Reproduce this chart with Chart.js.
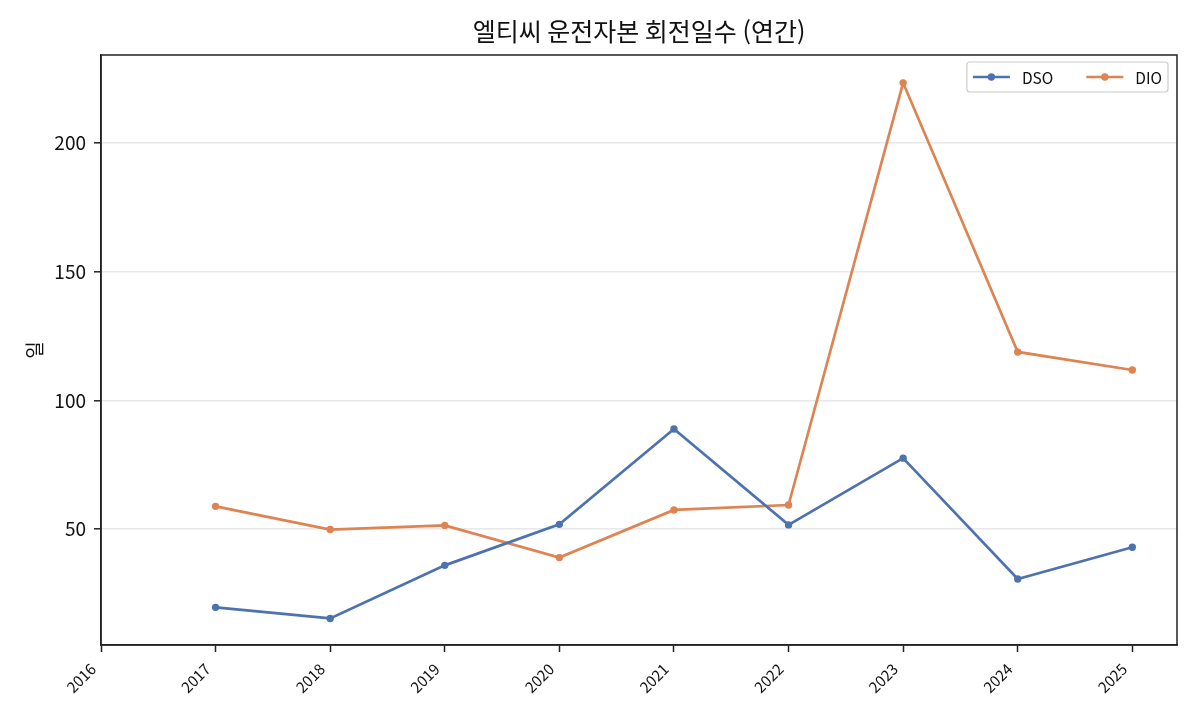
<!DOCTYPE html>
<html lang="ko">
<head>
<meta charset="utf-8">
<title>엘티씨 운전자본 회전일수 (연간)</title>
<script src="https://cdn.jsdelivr.net/npm/chart.js@4.4.1/dist/chart.umd.min.js"></script>
<style>
    html, body { margin: 0; padding: 0; background: #ffffff; }
    canvas { display: block; }
</style>
</head>
<body>
<canvas id="chart" width="1200" height="720"></canvas>
<script>
// --- Data ---
const years = [2017, 2018, 2019, 2020, 2021, 2022, 2023, 2024, 2025];
const dsoDays = [19.7, 15.4, 36.0, 51.9, 88.9, 51.7, 77.6, 30.7, 43.0];
const dioDays = [58.9, 49.9, 51.5, 39.0, 57.5, 59.4, 223.2, 118.8, 111.8];
const xTickYears = [2016, 2017, 2018, 2019, 2020, 2021, 2022, 2023, 2024, 2025];
const yTickValues = [50, 100, 150, 200];

const FONT = '"Noto Sans CJK KR", "Noto Sans", sans-serif';
const AXIS_COLOR = '#222222';
const LINE_W = 2.7;
const MARKER_R = 3.7;

// matplotlib-like frame around the plot area
const framePlugin = {
    id: 'frame',
    afterDraw(chart) {
        const { ctx, chartArea: a } = chart;
        ctx.save();
        ctx.strokeStyle = AXIS_COLOR;
        ctx.lineWidth = 1.5;
        ctx.strokeRect(a.left, a.top, a.right - a.left, a.bottom - a.top);
        ctx.restore();
    }
};

// Legend drawn inside the plot, top right, with a rounded box
const insideLegend = {
    id: 'insideLegend',
    afterDraw(chart) {
        const { ctx, chartArea: a } = chart;
        const sets = chart.data.datasets;
        ctx.save();
        ctx.font = '15.5px ' + FONT;
        const pad = 6, handle = 37, gap = 12, colGap = 33, boxH = 30;
        const widths = sets.map(ds => ctx.measureText(ds.label).width);
        let boxW = pad * 2 + (sets.length - 1) * colGap;
        widths.forEach(w => { boxW += handle + gap + w; });

        const right = a.right - 9;
        const left = right - boxW;
        const top = a.top + 7;

        ctx.beginPath();
        ctx.roundRect(left, top, boxW, boxH, 3);
        ctx.fillStyle = 'rgba(255,255,255,0.85)';
        ctx.fill();
        ctx.strokeStyle = '#cccccc';
        ctx.lineWidth = 1.2;
        ctx.stroke();

        const cy = top + boxH / 2;
        let x = left + pad;
        sets.forEach((ds, i) => {
            ctx.strokeStyle = ds.borderColor;
            ctx.lineWidth = LINE_W;
            ctx.beginPath();
            ctx.moveTo(x, cy);
            ctx.lineTo(x + handle, cy);
            ctx.stroke();
            ctx.fillStyle = ds.borderColor;
            ctx.beginPath();
            ctx.arc(x + handle / 2, cy, MARKER_R, 0, Math.PI * 2);
            ctx.fill();
            x += handle + gap;
            ctx.fillStyle = '#111111';
            ctx.textBaseline = 'middle';
            ctx.fillText(ds.label, x, cy + 1);
            x += widths[i] + colGap;
        });
        ctx.restore();
    }
};

function toPoints(values) {
    return years.map((yr, i) => ({ x: yr, y: values[i] }));
}

const lineStyle = (color) => ({
    borderColor: color,
    backgroundColor: color,
    pointBackgroundColor: color,
    pointBorderWidth: 0,
    pointRadius: MARKER_R,
    pointHoverRadius: MARKER_R,
    borderWidth: LINE_W,
    tension: 0
});

new Chart(document.getElementById('chart'), {
    type: 'line',
    data: {
        datasets: [
            { label: 'DSO', data: toPoints(dsoDays), ...lineStyle('#4c72b0') },
            { label: 'DIO', data: toPoints(dioDays), ...lineStyle('#dd8452') }
        ]
    },
    options: {
        responsive: false,
        animation: false,
        devicePixelRatio: 1,
        layout: { padding: { left: 0, right: 23, top: 0, bottom: 0 } },
        plugins: {
            legend: { display: false },
            tooltip: { enabled: false },
            title: {
                display: true,
                fullSize: false, // centre over the plot area, like matplotlib
                text: '엘티씨 운전자본 회전일수 (연간)',
                color: '#111111',
                font: { family: FONT, size: 25, weight: 'normal' },
                padding: { top: 16, bottom: 9 }
            }
        },
        scales: {
            x: {
                type: 'linear',
                min: 2016,
                max: 2025.39,
                afterFit: (scale) => { scale.height = 75; },
                afterBuildTicks: (scale) => {
                    scale.ticks = xTickYears.map(v => ({ value: v }));
                },
                grid: { drawOnChartArea: false, tickColor: AXIS_COLOR, tickLength: 7, tickWidth: 1.5 },
                border: { color: AXIS_COLOR, width: 1.5 },
                ticks: {
                    minRotation: 45,
                    maxRotation: 45,
                    padding: 8,
                    labelOffset: -8,
                    color: '#111111',
                    font: { family: FONT, size: 15 },
                    callback: (v) => String(v)
                }
            },
            y: {
                min: 5.1,
                max: 234,
                afterFit: (scale) => { scale.width = 101; },
                afterBuildTicks: (scale) => {
                    scale.ticks = yTickValues.map(v => ({ value: v }));
                },
                grid: { color: '#e8e8e8', lineWidth: 1.6, tickColor: AXIS_COLOR, tickLength: 7, tickWidth: 1.5 },
                border: { color: AXIS_COLOR, width: 1.5 },
                title: {
                    display: true,
                    text: '일',
                    color: '#111111',
                    font: { family: FONT, size: 19 },
                    padding: { top: 23, bottom: 0 }
                },
                ticks: {
                    padding: 8,
                    color: '#111111',
                    font: { family: FONT, size: 19 },
                    callback: (v) => String(v)
                }
            }
        }
    },
    plugins: [framePlugin, insideLegend]
});
</script>
</body>
</html>
